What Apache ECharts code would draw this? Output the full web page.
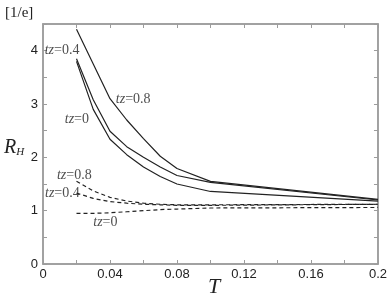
<!DOCTYPE html>
<html><head><meta charset="utf-8">
<script src="https://cdn.jsdelivr.net/npm/echarts@6/dist/echarts.min.js"></script>
<style>html,body{margin:0;padding:0;background:#fff}#c{width:390px;height:300px}</style>
</head><body><div id="c"></div>
<script>
// Data (T, R_H)
const T = [0.02, 0.03, 0.04, 0.05, 0.06, 0.07, 0.08, 0.1, 0.2];
const solid08 = [4.40, 3.75, 3.10, 2.70, 2.35, 2.02, 1.79, 1.55, 1.21];
const solid04 = [3.85, 3.08, 2.49, 2.20, 2.00, 1.82, 1.66, 1.53, 1.20];
const solid00 = [3.80, 2.90, 2.34, 2.05, 1.82, 1.64, 1.50, 1.36, 1.18];
const dash08 = [1.55, 1.37, 1.25, 1.18, 1.14, 1.12, 1.11, 1.11, 1.12];
const dash04 = [1.33, 1.23, 1.17, 1.14, 1.12, 1.11, 1.10, 1.10, 1.12];
const dash00 = [0.95, 0.95, 0.96, 0.98, 1.00, 1.02, 1.03, 1.05, 1.06];
const xTicks = [0, 0.04, 0.08, 0.12, 0.16, 0.2];
const yTicks = [0, 1, 2, 3, 4];
const labelText = ['0.4', '0.8', '0', '0.8', '0.4', '0'];
const labelAt = [[0.001, 4.0], [0.0435, 3.09], [0.013, 2.72], [0.0083, 1.66], [0.0012, 1.32], [0.03, 0.79]];

const pairs = ys => T.map((t, i) => [t, ys[i]]);
const near = (v, list) => list.some(t => Math.abs(v - t) < 1e-9);
const axisCol = '#9c9c9c';
const lineCol = '#222';
const serif = '"Liberation Serif", "DejaVu Serif", serif';
const sans = '"Liberation Sans", Arial, sans-serif';

const chart = echarts.init(document.getElementById('c'), null, {renderer: 'canvas'});
function mkLine(ys, dashed) {
  return {
    type: 'line', data: pairs(ys), symbol: 'none', smooth: false, silent: true,
    lineStyle: {color: lineCol, width: 1.2, type: dashed ? [4, 3] : 'solid'}
  };
}
function xAx(pos, lab) {
  return {type: 'value', min: 0, max: 0.2, interval: 0.02, position: pos,
    axisLine: {show: true, onZero: false, lineStyle: {color: axisCol, width: 1.5}},
    axisTick: {show: true, inside: true, length: 4, lineStyle: {color: axisCol}},
    splitLine: {show: false}, axisLabel: lab};
}
function yAx(pos, lab) {
  return {type: 'value', min: 0, max: 4.5, interval: 0.5, position: pos,
    axisLine: {show: true, onZero: false, lineStyle: {color: axisCol, width: 1.5}},
    axisTick: {show: true, inside: true, length: 4, lineStyle: {color: axisCol}},
    splitLine: {show: false}, axisLabel: lab};
}
const tzRich = {
  i: {fontFamily: serif, fontStyle: 'italic', fontWeight: 'normal', fontSize: 14, color: '#222'},
  n: {fontFamily: serif, fontWeight: 'normal', fontSize: 14, color: '#222'}
};
chart.setOption({
  animation: false,
  title: [
    {text: '[1/e]', left: 5, top: 6, padding: 0,
      textStyle: {fontFamily: serif, fontSize: 15, fontWeight: 'normal', color: '#222'}},
    {text: '{r|R}{s|H}', left: 4, top: 138, padding: 0,
      textStyle: {fontWeight: 'normal', rich: {
        r: {fontFamily: serif, fontStyle: 'italic', fontWeight: 'normal', fontSize: 20, color: '#222'},
        s: {fontFamily: serif, fontStyle: 'italic', fontWeight: 'normal', fontSize: 11, color: '#222', verticalAlign: 'bottom'}}}},
    {text: 'T', left: 208, top: 276, padding: 0,
      textStyle: {fontFamily: serif, fontStyle: 'italic', fontSize: 22, fontWeight: 'normal', color: '#222'}}
  ],
  grid: {left: 43, right: 11, top: 24, bottom: 36, show: true, borderColor: axisCol, borderWidth: 1.5},
  xAxis: [
    xAx('bottom', {color: '#222', fontFamily: sans, fontSize: 13, margin: 4,
        formatter: v => near(v, xTicks) ? String(+v.toFixed(2)) : ''}),
    xAx('top', {show: false})
  ],
  yAxis: [
    yAx('left', {color: '#222', fontFamily: sans, fontSize: 13, margin: 5,
        formatter: v => near(v, yTicks) ? String(v) : ''}),
    yAx('right', {show: false})
  ],
  series: [
    mkLine(solid08, false), mkLine(solid04, false), mkLine(solid00, false),
    mkLine(dash08, true), mkLine(dash04, true), mkLine(dash00, true),
    {type: 'scatter', silent: true, symbolSize: 0,
      data: labelAt.map((p, i) => ({value: p, name: labelText[i]})),
      label: {show: true, position: 'right', distance: 0,
        formatter: p => '{i|tz}{n|=' + p.name + '}', rich: tzRich}}
  ]
});
</script></body></html>
